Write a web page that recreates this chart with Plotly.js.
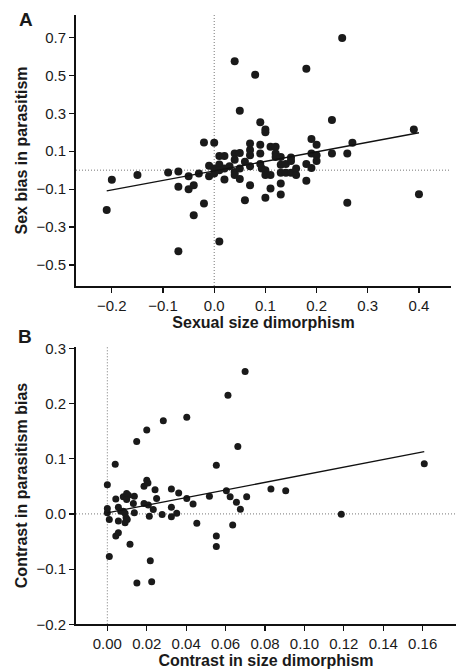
<!DOCTYPE html>
<html>
<head>
<meta charset="utf-8">
<script src="https://cdn.plot.ly/plotly-3.0.1.min.js"></script>
<style>html,body{margin:0;padding:0;background:#fff;}#chart{width:469px;height:671px;}</style>
</head>
<body>
<div id="chart"></div>
<script>
// Panel A: sexual size dimorphism vs sex bias in parasitism
const aX = [-0.21,-0.20,-0.15,-0.09,-0.07,-0.07,-0.07,-0.05,-0.05,-0.04,-0.04,-0.03,-0.02,-0.02,0.0,-0.01,-0.01,0.0,0.0,0.01,0.01,0.01,0.01,0.02,0.02,0.02,0.03,0.04,0.04,0.04,0.04,0.04,0.05,0.05,0.05,0.05,0.06,0.06,0.07,0.07,0.07,0.07,0.07,0.08,0.09,0.09,0.09,0.09,0.093,0.10,0.10,0.10,0.10,0.10,0.11,0.11,0.11,0.12,0.12,0.12,0.13,0.13,0.13,0.13,0.13,0.14,0.14,0.15,0.15,0.15,0.16,0.16,0.18,0.18,0.18,0.19,0.19,0.19,0.20,0.20,0.20,0.23,0.23,0.25,0.26,0.26,0.27,0.39,0.40];
const aY = [-0.21,-0.05,-0.026,-0.012,-0.007,-0.088,-0.427,-0.032,-0.10,-0.079,-0.237,-0.018,-0.176,0.146,0.144,0.023,-0.032,0.009,-0.018,0.03,0.0,-0.376,0.075,0.075,0.009,-0.049,0.021,0.574,0.088,0.055,-0.009,-0.026,0.313,0.091,0.009,-0.047,0.044,-0.158,0.141,0.106,0.079,0.021,-0.079,0.503,0.253,0.134,0.088,0.032,0.009,0.215,0.20,0.0,-0.026,-0.146,0.123,-0.026,-0.097,0.123,0.088,0.07,0.07,0.028,-0.014,-0.07,-0.128,0.032,-0.014,0.067,0.049,-0.014,0.009,-0.026,0.535,0.032,-0.056,0.164,0.088,0.012,0.134,0.079,0.049,0.264,0.088,0.697,0.088,-0.172,0.144,0.215,-0.127];
const aFit = {intercept: -0.004, slope: 0.503};
const aXTicks = [-0.2,-0.1,0.0,0.1,0.2,0.3,0.4];
const aYTicks = [-0.5,-0.3,-0.1,0.1,0.3,0.5,0.7];

// Panel B: contrast in size dimorphism vs contrast in parasitism bias
const bX = [0.0,0.0,0.0,0.001,0.001,0.004,0.0043,0.0056,0.0056,0.0043,0.0056,0.0068,0.0081,0.0081,0.0098,0.0107,0.0098,0.009,0.009,0.0095,0.0101,0.0115,0.0132,0.0137,0.0137,0.0149,0.015,0.0186,0.020,0.0206,0.020,0.0186,0.0208,0.0213,0.0218,0.0225,0.0233,0.0242,0.025,0.0278,0.0284,0.0325,0.0325,0.0325,0.0352,0.0362,0.0403,0.0403,0.0435,0.0454,0.0518,0.0553,0.0553,0.0553,0.0604,0.0612,0.0623,0.0636,0.0655,0.0662,0.0675,0.0699,0.0707,0.083,0.0905,0.1187,0.1608];
const bY = [0.053,0.010,0.002,-0.010,-0.077,0.090,0.027,0.012,-0.013,-0.040,-0.034,0.005,0.031,0.005,0.037,0.034,0.026,0.001,-0.016,-0.007,-0.010,-0.055,0.019,0.032,0.002,0.131,-0.125,0.050,0.061,0.056,0.152,0.019,0.016,-0.004,-0.085,-0.123,0.008,0.044,0.028,-0.001,0.169,0.045,0.012,-0.005,0.001,0.038,0.175,0.028,0.018,-0.017,0.032,0.088,-0.040,-0.059,0.042,0.215,0.031,-0.020,0.021,0.122,0.0085,0.258,0.031,0.045,0.042,-0.0005,0.091];
const bFit = {intercept: 0.002, slope: 0.69};
const bXTicks = [0.00,0.02,0.04,0.06,0.08,0.10,0.12,0.14,0.16];
const bYTicks = [-0.2,-0.1,0.0,0.1,0.2,0.3];

function fitLine(xs, fit) {
  const lo = Math.min(...xs), hi = Math.max(...xs);
  return {x: [lo, hi], y: [fit.intercept + fit.slope * lo, fit.intercept + fit.slope * hi]};
}
const aLine = fitLine(aX, aFit);
const bLine = fitLine(bX, bFit);

const W = 469, H = 671;
const FONT = 'Liberation Sans, Arial, sans-serif';
const TXT = '#1a1a1a';
const DOT = {color: '#777', width: 1, dash: '1px,2px'};

const traces = [
  {x: aX, y: aY, xaxis: 'x', yaxis: 'y', mode: 'markers', type: 'scatter',
   marker: {color: '#1a1a1a', size: 8}},
  {x: aLine.x, y: aLine.y, xaxis: 'x', yaxis: 'y', mode: 'lines', type: 'scatter',
   line: {color: '#111', width: 1.3}},
  {x: bX, y: bY, xaxis: 'x2', yaxis: 'y2', mode: 'markers', type: 'scatter',
   marker: {color: '#1a1a1a', size: 7}},
  {x: bLine.x, y: bLine.y, xaxis: 'x2', yaxis: 'y2', mode: 'lines', type: 'scatter',
   line: {color: '#111', width: 1.3}}
];

function axisBase() {
  return {
    showgrid: false, zeroline: false, showline: true, linecolor: '#111', linewidth: 2,
    ticks: 'outside', ticklen: 5, tickwidth: 1.2, tickcolor: '#111',
    tickfont: {family: FONT, size: 15, color: TXT}, automargin: false, fixedrange: true
  };
}

const layout = {
  width: W, height: H,
  margin: {l: 0, r: 0, t: 0, b: 0},
  paper_bgcolor: '#fff', plot_bgcolor: '#fff',
  showlegend: false,
  xaxis: Object.assign(axisBase(), {
    domain: [76/W, 451/W], range: [-0.27, 0.4626], anchor: 'y',
    tickvals: aXTicks, tickformat: '.1f',
    title: {text: '<b>Sexual size dimorphism</b>', font: {family: FONT, size: 16, color: TXT}, standoff: 2}
  }),
  yaxis: Object.assign(axisBase(), {
    domain: [1 - 286/H, 1 - 15/H], range: [-0.6106, 0.818], anchor: 'x',
    tickvals: aYTicks, tickformat: '.1f',
    title: {text: '<b>Sex bias in parasitism</b>', font: {family: FONT, size: 16, color: TXT}, standoff: 5}
  }),
  xaxis2: Object.assign(axisBase(), {
    domain: [76/W, 456/W], range: [-0.0159, 0.1769], anchor: 'y2',
    tickvals: bXTicks, tickformat: '.2f',
    title: {text: '<b>Contrast in size dimorphism</b>', font: {family: FONT, size: 16, color: TXT}, standoff: 4}
  }),
  yaxis2: Object.assign(axisBase(), {
    domain: [1 - 624.3/H, 1 - 346.7/H], range: [-0.2, 0.303], anchor: 'x2',
    tickvals: bYTicks, tickformat: '.1f',
    title: {text: '<b>Contrast in parasitism bias</b>', font: {family: FONT, size: 16, color: TXT}, standoff: 5}
  }),
  shapes: [
    {type: 'line', xref: 'x', yref: 'y domain', x0: 0, x1: 0, y0: 0, y1: 1, line: DOT, layer: 'below'},
    {type: 'line', xref: 'x domain', yref: 'y', x0: 0, x1: 1, y0: 0, y1: 0, line: DOT, layer: 'below'},
    {type: 'line', xref: 'x2', yref: 'y2 domain', x0: 0, x1: 0, y0: 0, y1: 1, line: DOT, layer: 'below'},
    {type: 'line', xref: 'x2 domain', yref: 'y2', x0: 0, x1: 1, y0: 0, y1: 0, line: DOT, layer: 'below'}
  ],
  annotations: [
    {text: '<b>A</b>', xref: 'paper', yref: 'paper', x: 26/W, y: 1 - 19/H, showarrow: false,
     font: {family: FONT, size: 19, color: TXT}, xanchor: 'center', yanchor: 'middle'},
    {text: '<b>B</b>', xref: 'paper', yref: 'paper', x: 25/W, y: 1 - 336/H, showarrow: false,
     font: {family: FONT, size: 19, color: TXT}, xanchor: 'center', yanchor: 'middle'}
  ]
};

Plotly.newPlot('chart', traces, layout, {displayModeBar: false, staticPlot: true});
</script>
</body>
</html>
